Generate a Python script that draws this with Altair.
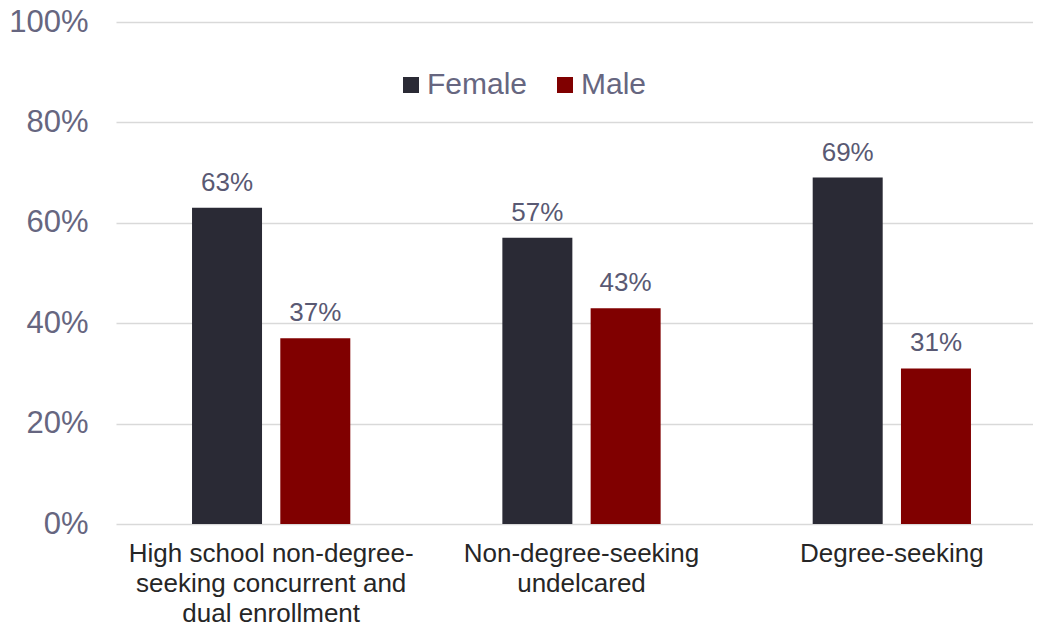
import altair as alt
import pandas as pd

categories = [
    "High school non-degree-|seeking concurrent and|dual enrollment",
    "Non-degree-seeking|undelcared",
    "Degree-seeking",
]
genders = ["Female", "Male"]
female = [0.63, 0.57, 0.69]
male = [0.37, 0.43, 0.31]

rows = []
for c, f, m in zip(categories, female, male):
    rows.append({"category": c, "gender": "Female", "value": f})
    rows.append({"category": c, "gender": "Male", "value": m})
df = pd.DataFrame(rows)

FONT = "Liberation Sans"

x = alt.X(
    "category:N",
    sort=categories,
    title=None,
    scale=alt.Scale(paddingInner=0, paddingOuter=0, range=[0, 931]),
    axis=alt.Axis(
        labelExpr="split(datum.label, '|')",
        labelAngle=0,
        labelFont=FONT,
        labelFontSize=26,
        labelColor="#262626",
        labelLineHeight=30,
        labelPadding=16,
        labelLimit=400,
        ticks=False,
        domain=False,
        grid=False,
    ),
)
xoff = alt.XOffset(
    "gender:N",
    sort=genders,
    scale=alt.Scale(paddingInner=0.2045, paddingOuter=0.86),
)
y = alt.Y(
    "value:Q",
    title=None,
    scale=alt.Scale(domain=[0, 1]),
    axis=alt.Axis(
        values=[0, 0.2, 0.4, 0.6, 0.8, 1.0],
        format=".0%",
        labelFont=FONT,
        labelFontSize=31,
        labelColor="#666680",
        labelPadding=28,
        ticks=False,
        domain=False,
        gridColor="#d9d9d9",
        gridWidth=1.5,
    ),
)
color = alt.Color(
    "gender:N",
    sort=genders,
    scale=alt.Scale(domain=genders, range=["#2a2a35", "#800000"]),
    legend=alt.Legend(
        title=None,
        orient="none",
        direction="horizontal",
        legendX=280,
        legendY=48,
        symbolType="square",
        symbolSize=256,
        symbolStrokeWidth=0,
        symbolOpacity=1,
        labelFont=FONT,
        labelFontSize=30,
        labelColor="#666680",
        labelOffset=1,
        columnPadding=22,
        labelLimit=300,
    ),
)

base = alt.Chart(df).encode(x=x, xOffset=xoff, y=y)
bars = base.mark_bar(size=70).encode(color=color)
labels = base.mark_text(
    baseline="alphabetic", dy=-17, font=FONT, fontSize=26, color="#595973"
).encode(text=alt.Text("value:Q", format=".0%"))

chart = (
    alt.layer(bars, labels)
    .properties(
        width=917,
        height=502,
        padding={"left": 108, "top": 14, "right": 0, "bottom": 100},
        autosize="none",
        view=alt.ViewBackground(stroke="transparent", strokeWidth=0),
    )
    .configure_view(stroke="transparent", strokeWidth=0)
    .configure_axisX(grid=False, domain=False)
    .configure(background="white")
)

chart.save("out.html", embed_options={"renderer": "svg", "actions": False})
